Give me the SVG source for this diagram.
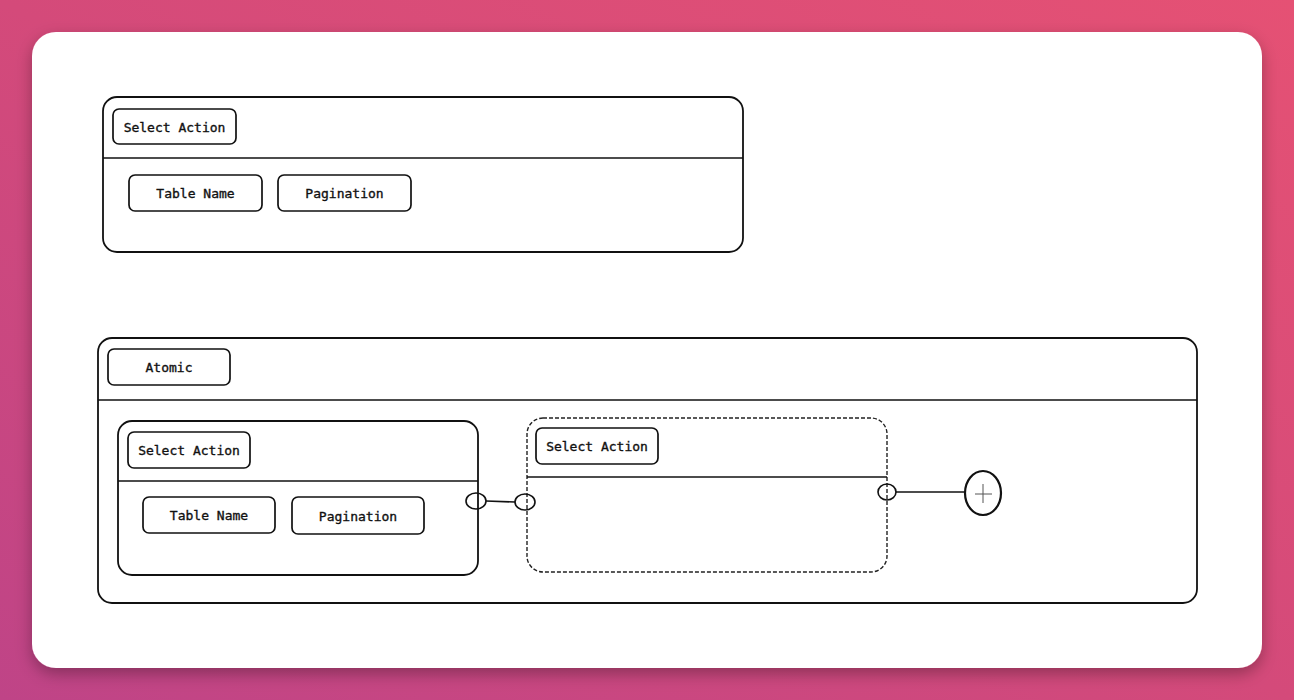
<svg xmlns="http://www.w3.org/2000/svg" width="1294" height="700" viewBox="0 0 1294 700">
<defs>
<linearGradient id="bg" x1="0" y1="1" x2="1" y2="0">
<stop offset="0" stop-color="#bf4487"/>
<stop offset="0.5" stop-color="#d44a7a"/>
<stop offset="1" stop-color="#e55174"/>
</linearGradient>
<filter id="sh" x="-5%" y="-5%" width="110%" height="115%">
<feDropShadow dx="0" dy="6" stdDeviation="8" flood-color="#000" flood-opacity="0.3"/>
</filter>
<style>
.box{fill:none;stroke:#111;stroke-width:1.8}
.dash{fill:none;stroke:#222;stroke-width:1.4;stroke-dasharray:4 2}
.lab{fill:#fff;stroke:#111;stroke-width:1.7}
.t{font-family:"DejaVu Sans Mono","Liberation Mono",monospace;font-size:13px;fill:#111;stroke:#111;stroke-width:0.35;text-anchor:middle;dominant-baseline:central}
.ln{stroke:#111;stroke-width:1.7;fill:none}
.port{fill:none;stroke:#111;stroke-width:1.6}
</style>
</defs>
<rect width="1294" height="700" fill="url(#bg)"/>
<rect x="32" y="32" width="1230" height="636" rx="24" fill="#fff" filter="url(#sh)"/>

<g id="select-action-top">
<rect class="box" x="103" y="97" width="640" height="155" rx="14"/>
<line class="ln" x1="103" y1="158" x2="743" y2="158"/>
<g id="sa-top-label"><rect class="lab" x="113" y="109" width="123" height="35" rx="6"/><text class="t" x="174.5" y="127">Select Action</text></g>
<g id="tn-top"><rect class="lab" x="129" y="175" width="133" height="36" rx="6"/><text class="t" x="195.5" y="193">Table Name</text></g>
<g id="pg-top"><rect class="lab" x="278" y="175" width="133" height="36" rx="6"/><text class="t" x="344.5" y="193">Pagination</text></g>
</g>

<g id="atomic">
<rect class="box" x="98" y="338" width="1099" height="265" rx="14"/>
<line class="ln" x1="98" y1="400" x2="1197" y2="400"/>
<g id="atomic-label"><rect class="lab" x="108" y="349" width="122" height="36" rx="6"/><text class="t" x="169" y="367">Atomic</text></g>
</g>

<g id="select-action-inner">
<rect class="box" x="118" y="421" width="360" height="154" rx="14"/>
<line class="ln" x1="118" y1="481" x2="478" y2="481"/>
<g id="sa-inner-label"><rect class="lab" x="128" y="432" width="122" height="36" rx="6"/><text class="t" x="189" y="450">Select Action</text></g>
<g id="tn-inner"><rect class="lab" x="143" y="497" width="132" height="36" rx="6"/><text class="t" x="209" y="515">Table Name</text></g>
<g id="pg-inner"><rect class="lab" x="292" y="497" width="132" height="37" rx="6"/><text class="t" x="358" y="516">Pagination</text></g>
</g>

<g id="select-action-dashed">
<rect class="dash" x="527" y="418" width="360" height="154" rx="16"/>
<line class="ln" x1="527" y1="477" x2="887" y2="477"/>
<g id="sa-dashed-label"><rect class="lab" x="536" y="428" width="122" height="36" rx="6"/><text class="t" x="597" y="446">Select Action</text></g>
</g>

<g id="connectors">
<line class="ln" x1="486" y1="501" x2="515" y2="502"/>
<line class="ln" x1="896" y1="492" x2="965" y2="492"/>
<ellipse class="port" cx="476" cy="501" rx="10" ry="8"/>
<ellipse class="port" cx="525" cy="502" rx="10" ry="8"/>
<ellipse class="port" cx="887" cy="492" rx="9" ry="8"/>
</g>

<g id="add-node">
<ellipse cx="983" cy="493" rx="18" ry="22" fill="#fff" stroke="#111" stroke-width="2.2"/>
<line x1="975" y1="494" x2="992" y2="494" stroke="#555" stroke-width="1"/>
<line x1="983" y1="484" x2="983" y2="503" stroke="#555" stroke-width="1"/>
</g>
</svg>
